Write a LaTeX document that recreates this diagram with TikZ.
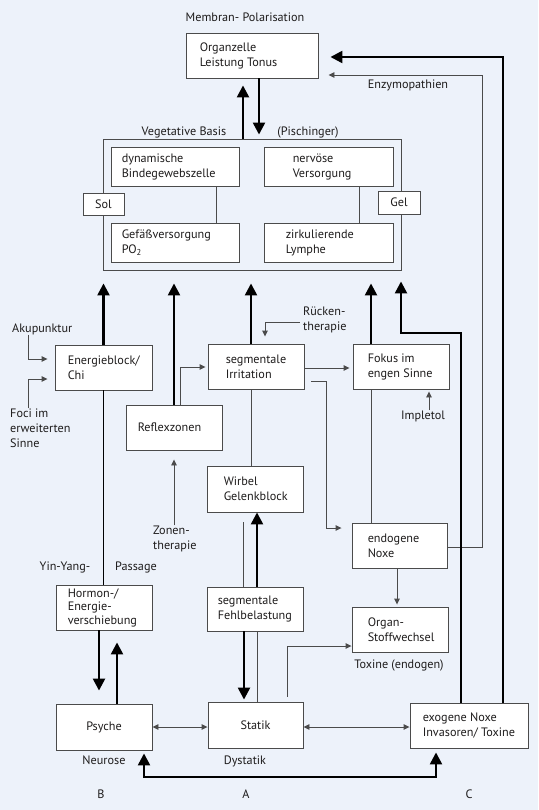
\documentclass[tikz,border=0pt]{standalone}
\usepackage{fontspec}
\setmainfont{PT Sans}
\usetikzlibrary{arrows.meta}
\definecolor{bg}{RGB}{237,242,250}
\definecolor{ln}{RGB}{75,75,75}
\definecolor{tx}{RGB}{30,28,28}
\begin{document}
\begin{tikzpicture}[x=1pt,y=-1pt,
  font=\fontsize{12.2}{15}\selectfont, text=tx,
  box/.style={draw=ln, fill=white, line width=0.9pt, inner sep=0pt},
  bt/.style={align=left, inner sep=0pt, anchor=west},
  lbl/.style={inner sep=0pt},
  thinl/.style={draw=ln, line width=0.9pt},
  thickl/.style={draw=black, line width=2.4pt},
  midl/.style={draw=black, line width=1.7pt},
  ta/.style={-{Triangle[width=5.5pt,length=6pt]}},
  tata/.style={{Triangle[width=5.5pt,length=6pt]}-{Triangle[width=5.5pt,length=6pt]}},
  Ta/.style={-{Triangle[width=12pt,length=12pt]}},
  TaTa/.style={{Triangle[width=12pt,length=12pt]}-{Triangle[width=12pt,length=12pt]}}
  ]
\useasboundingbox[fill=bg] (0,0) rectangle (538,810);

% ---------- boxes ----------
\node[box, minimum width=132pt, minimum height=45pt] (org) at (252,55.5) {};
\node[bt] (orgt) at ([xshift=14pt]org.west) {Organzelle\\Leistung Tonus};

\node[box, fill=none, minimum width=298pt, minimum height=131pt] (veg) at (252,204.5) {};
\node[box, minimum width=128pt, minimum height=39pt] (dyn) at (175,166.5) {};
\node[bt] (dynt) at ([xshift=11pt]dyn.west) {dynamische\\Bindegewebszelle};
\node[box, minimum width=129pt, minimum height=39pt] (nerv) at (328.5,166.5) {};
\node[bt] (nervt) at ([xshift=29pt]nerv.west) {nervöse\\Versorgung};
\node[box, minimum width=128pt, minimum height=39pt] (gef) at (175,242.5) {};
\node[bt] (geft) at ([xshift=11pt]gef.west) {Gefäßversorgung\\PO\textsubscript{2}};
\node[box, minimum width=129pt, minimum height=39pt] (zirk) at (328.5,242.5) {};
\node[bt] (zirkt) at ([xshift=22pt]zirk.west) {zirkulierende\\Lymphe};
\node[box, minimum width=41pt, minimum height=22pt] (sol) at (103.5,204) {Sol};
\node[box, minimum width=42pt, minimum height=23pt] (gel) at (399,202.5) {Gel};

\node[box, minimum width=97pt, minimum height=45pt] (energ) at (103.5,367.5) {};
\node[bt] (energt) at ([xshift=13pt]energ.west) {Energieblock/\\Chi};
\node[box, minimum width=96pt, minimum height=45pt] (irr) at (256,366.5) {};
\node[bt] (irrt) at ([xshift=18pt]irr.west) {segmentale\\Irritation};
\node[box, minimum width=96pt, minimum height=45pt] (fok) at (401,366.5) {};
\node[bt] (fokt) at ([xshift=15pt]fok.west) {Fokus im\\engen Sinne};
\node[box, minimum width=96pt, minimum height=45pt] (refl) at (174,427.5) {};
\node[bt] (reflt) at ([xshift=12pt]refl.west) {Reflexzonen};
\node[box, minimum width=96pt, minimum height=46pt] (wirb) at (255,489) {};
\node[bt] (wirbt) at ([xshift=17pt]wirb.west) {Wirbel\\Gelenkblock};
\node[box, minimum width=95pt, minimum height=45pt] (endo) at (399.5,545.5) {};
\node[bt] (endot) at ([xshift=16pt]endo.west) {endogene\\Noxe};
\node[box, minimum width=96pt, minimum height=45pt] (horm) at (104,607.5) {};
\node[bt] (hormt) at ([xshift=12pt]horm.west) {Hormon-/\\[-1.5pt]Energie-\\[-1.5pt]verschiebung};
\node[box, minimum width=96pt, minimum height=44pt] (fehl) at (255,609) {};
\node[bt] (fehlt) at ([xshift=11pt]fehl.west) {segmentale\\Fehlbelastung};
\node[box, minimum width=96pt, minimum height=45pt] (organ) at (400,629.5) {};
\node[bt] (organt) at ([xshift=16pt]organ.west) {Organ-\\Stoffwechsel};
\node[box, minimum width=96pt, minimum height=46pt] (psy) at (104,727) {Psyche};
\node[box, minimum width=95pt, minimum height=46pt] (stat) at (255.5,725) {Statik};
\node[box, minimum width=118pt, minimum height=45pt] (exo) at (469,725.5) {};
\node[bt] (exot) at ([xshift=13pt]exo.west) {exogene Noxe\\Invasoren/ Toxine};

% ---------- free labels ----------
\node[lbl] (mem) at (245,17) {Membran- Polarisation};
\node[lbl] (vb) at (184,132) {Vegetative Basis};
\node[lbl] (pis) at (308,132) {(Pischinger)};
\node[lbl] (enz) at (408,85) {Enzymopathien};
\node[lbl, anchor=west] (aku) at (12,329) {Akupunktur};
\node[bt] (foci) at (10,428) {Foci im\\erweiterten\\Sinne};
\node[bt] (ruck) at (303,320) {Rücken-\\therapie};
\node[lbl] (imp) at (423,416) {Impletol};
\node[bt] (zon) at (153,538.5) {Zonen-\\therapie};
\node[lbl] (yin) at (65,567) {Yin-Yang-};
\node[lbl] (pas) at (136,567) {Passage};
\node[lbl] (tox) at (399,665) {Toxine (endogen)};
\node[lbl] (neu) at (104,760) {Neurose};
\node[lbl] (dys) at (245,761) {Dystatik};
\node[lbl] (lb) at (101,794) {B};
\node[lbl] (la) at (246,794) {A};
\node[lbl] (lc) at (469,794) {C};

% ---------- thin connectors inside vegetative box ----------
\draw[thinl] (dyn.south -| 216,0) -- (gef.north -| 216,0);
\draw[thinl] (nerv.south -| 359,0) -- (zirk.north -| 359,0);

% ---------- top ----------
\draw[thickl,Ta,shorten >=7pt] (veg.north -| 243,0) -- (org.south -| 243,0);
\draw[thickl,Ta,shorten >=4pt] (org.south -| 259,0) -- (veg.north -| 259,0);
\draw[thickl,Ta,shorten >=12pt] (exo.north -| 503,0) -- (503,57) -- (org.east |- 0,57);
\draw[thinl,ta,shorten >=10pt] (endo.east |- 0,547) -- (482,547) -- (482,75) -- (org.east |- 0,75);

% ---------- arrows into vegetative basis ----------
\draw[thickl,Ta,shorten >=13pt] (energ.north) -- (veg.south -| energ.north);
\draw[thickl,Ta,shorten >=13pt] (refl.north) -- (veg.south -| refl.north);
\draw[thickl,Ta,shorten >=13pt] (irr.north -| 251,0) -- (veg.south -| 251,0);
\draw[thickl,Ta,shorten >=13pt] (fok.north -| 371,0) -- (veg.south -| 371,0);
\draw[thickl,Ta,shorten >=11pt] (exo.north -| 461,0) -- (461,333) -- (401,333) -- (veg.south -| 401,0);

% ---------- left side ----------
\draw[thinl,ta,shorten >=7pt] (aku.south -| 28,0) -- (28,359) -- (energ.west |- 0,359);
\draw[thinl,ta,shorten >=7pt] (foci.north -| 28,0) -- (28,379) -- (energ.west |- 0,379);
\draw[midl] (energ.south) -- (horm.north -| energ.south);
\draw[thinl,ta,shorten >=2pt] (refl.north -| 180,0) -- (180,367) -- (irr.west |- 0,367);
\draw[thinl,ta,shorten >=9pt] (zon.north -| 174,0) -- (refl.south);

% ---------- middle ----------
\coordinate (rk0) at (300,322);
\draw[thinl,ta,shorten >=7pt] (rk0) -- (265,322) -- (irr.north -| 265,0);
\draw[thinl,ta,shorten >=3pt] (irr.east |- 0,368) -- (fok.west |- 0,368);
\coordinate (ie0) at (311,381);
\draw[thinl,ta,shorten >=10pt] (ie0) -- (326,381) -- (326,528) -- (endo.west |- 0,528);
\draw[thinl,ta,shorten >=2pt] (imp.north -| 429,0) -- (fok.south -| 429,0);
\draw[thinl] (fok.south -| 371,0) -- (endo.north -| 371,0);
\draw[thinl] (irr.south -| 251,0) -- (wirb.north -| 251,0);
\draw[thickl,Ta] (fehl.north -| 257,0) -- (wirb.south -| 257,0);
\coordinate (fw0) at (243,522);
\draw[thinl] (fehl.north -| 243,0) -- (fw0);
\draw[thickl,Ta,shorten >=2pt] (fehl.south -| 244,0) -- (stat.north -| 244,0);
\draw[thinl] (fehl.south -| 257,0) -- (stat.north -| 257,0);
\draw[thinl,ta,shorten <=5pt] (stat.north -| 287,0) -- (287,646) -- (organ.west |- 0,646);
\draw[thinl,ta,shorten >=2pt] (endo.south -| 397,0) -- (organ.north -| 397,0);

% ---------- bottom ----------
\draw[thickl,Ta,shorten >=13pt] (horm.south -| 99,0) -- (psy.north -| 99,0);
\draw[thickl,Ta,shorten >=12pt] (psy.north -| 117,0) -- (horm.south -| 117,0);
\draw[thinl,tata] (psy.east |- 0,727) -- (stat.west |- 0,727);
\draw[thinl,tata] (stat.east |- 0,727) -- (exo.west |- 0,727);
\draw[thickl,TaTa,shorten <=3pt,shorten >=4pt] (psy.south -| 144,0) -- (144,777) -- (436,777) -- (exo.south -| 436,0);
\end{tikzpicture}
\end{document}
